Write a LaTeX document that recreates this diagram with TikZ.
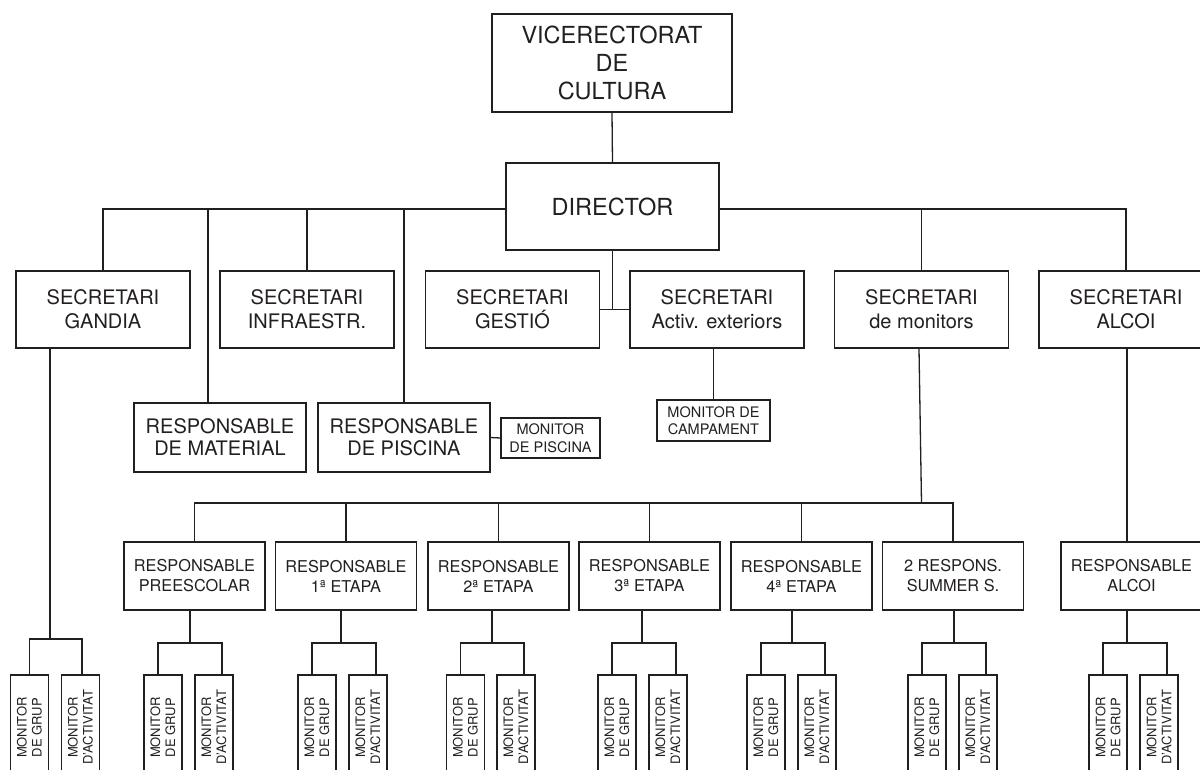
\documentclass[tikz,border=0pt]{standalone}
\usepackage{fontspec}
\setmainfont{TeX Gyre Heros}
\definecolor{ink}{HTML}{231F20}
\begin{document}
\begin{tikzpicture}[x=1pt,y=-1pt,
  ln/.style={draw=ink, line width=1.3pt},
  bx/.style={draw=ink, line width=1.3pt, fill=white, inner sep=0pt, align=center, text=ink},
  big/.style={bx, font=\fontsize{23.5}{28}\selectfont},
  secr/.style={bx, minimum width=174pt, minimum height=77pt, font=\fontsize{20}{24}\selectfont},
  rmid/.style={bx, minimum width=172pt, minimum height=69pt, font=\fontsize{20}{22}\selectfont},
  resp/.style={bx, minimum width=141pt, minimum height=68pt, font=\fontsize{16.3}{20}\selectfont},
  small/.style={bx, font=\fontsize{14.5}{17.5}\selectfont},
  mon/.style={bx, rotate=90, minimum width=105pt, minimum height=38pt, font=\fontsize{13}{15}\selectfont}]
\useasboundingbox (0,0) rectangle (1200,769);
\fill[white] (0,0) rectangle (1200,769);
\clip (0,0) rectangle (1200,769);

% top levels
\node[big, minimum width=240pt, minimum height=98pt] (vr) at (612,63) {VICERECTORAT\\DE\\CULTURA};
\node[big, minimum width=213pt, minimum height=87pt] (dir) at (612.5,206.5) {DIRECTOR};

\node[secr] (gandia) at (103,309.5) {SECRETARI\\GANDIA};
\node[secr] (infra)  at (307,309.5) {SECRETARI\\INFRAESTR.};
\node[secr] (gestio) at (512.5,309.5) {SECRETARI\\GESTIÓ};
\node[secr] (activ)  at (717,309.5) {SECRETARI\\Activ. exteriors};
\node[secr] (smon)   at (921.5,309.5) {SECRETARI\\de monitors};
\node[secr] (salcoi) at (1126,309.5) {SECRETARI\\ALCOI};

\node[rmid] (rmat)  at (220,437.5) {RESPONSABLE\\DE MATERIAL};
\node[rmid] (rpisc) at (404,437.5) {RESPONSABLE\\DE PISCINA};
\node[small, minimum width=99pt, minimum height=40pt] (mpisc) at (550.5,438) {MONITOR\\DE PISCINA};
\node[small, minimum width=113pt, minimum height=41pt] (mcamp) at (713.5,420.5) {MONITOR DE\\CAMPAMENT};

% responsables
\node[resp] (rpre) at (194.5,576) {RESPONSABLE\\PREESCOLAR};
\node[resp] (r1)   at (346,576) {RESPONSABLE\\1ª ETAPA};
\node[resp] (r2)   at (498.5,576) {RESPONSABLE\\2ª ETAPA};
\node[resp] (r3)   at (649.5,576) {RESPONSABLE\\3ª ETAPA};
\node[resp] (r4)   at (801.5,576) {RESPONSABLE\\4ª ETAPA};
\node[resp] (rss)  at (953,576) {2 RESPONS.\\SUMMER S.};
\node[resp] (ral)  at (1131.5,576) {RESPONSABLE\\ALCOI};

% connectors top
\draw[ln] (vr.south) -- (dir.north);
\coordinate (hlL) at ([yshift=-2.5pt]dir.west);
\coordinate (hlR) at ([yshift=-2.5pt]dir.east);
\draw[ln] (gandia.north) |- (hlL);
\draw[ln] ([xshift=-12pt]rmat.north) -- ([xshift=-12pt]rmat.north |- hlL);
\draw[ln] (infra.north) -- (infra.north |- hlL);
\draw[ln] (rpisc.north) -- (rpisc.north |- hlL);
\draw[ln] (salcoi.north) |- (hlR);
\draw[ln] (smon.north) -- (smon.north |- hlR);
\coordinate (gj) at (dir.south |- gestio.east);
\draw[ln] (dir.south) -- (gj);
\draw[ln] (gestio.east) -- (activ.west);
\draw[ln] (mcamp.north) -- (mcamp.north |- activ.south);
\draw[ln] (rpisc.east) -- (mpisc.west);

% monitors bus
\coordinate (bus) at (919,503);
\draw[ln] (bus -| smon.south) -- (smon.south -| bus);
\draw[ln] (rpre.north) |- (bus);
\draw[ln] (rss.north) |- (bus);
\foreach \n in {r1,r2,r3,r4} \draw[ln] (\n.north) -- (\n.north |- bus);
\coordinate (alb) at (1127,0);
\draw[ln] (salcoi.south -| alb) -- (ral.north -| alb);

% monitor groups
\foreach \p/\c/\ba/\bb in {rpre/190/163/214, r1/341/317/368, r2/492/465.5/516, r3/642/617/668, r4/792/766/817, rss/954/927/978, ral/1127/1108/1159} {
  \node[mon] (\p a) at (\ba,727.5) {MONITOR\\DE GRUP};
  \node[mon] (\p b) at (\bb,727.5) {MONITOR\\D'ACTIVITAT};
  \coordinate (\p x) at (\c,643);
  \draw[ln] (\p.south -| \p x) -- (\p x);
  \draw[ln] (\p x) -| ([xshift=-5pt]\p a.east);
  \draw[ln] (\p x) -| ([xshift=8pt]\p b.east);
}
% Gandia group
\node[mon] (ga) at (29.5,727.5) {MONITOR\\DE GRUP};
\node[mon] (gb) at (80.5,727.5) {MONITOR\\D'ACTIVITAT};
\coordinate (gx) at (50,639);
\draw[ln] (gandia.south -| gx) -- (gx);
\draw[ln] (gx) -| (ga.east);
\draw[ln] (gx) -| ([xshift=1.5pt]gb.east);
\end{tikzpicture}
\end{document}
